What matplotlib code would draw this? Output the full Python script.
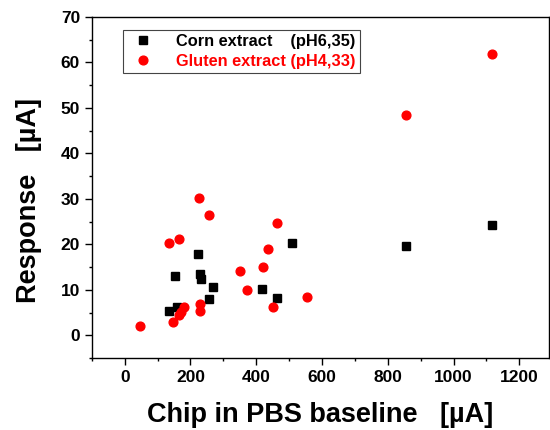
import matplotlib.pyplot as plt
from matplotlib.ticker import MultipleLocator

plt.rcParams['font.family'] = ['Liberation Sans', 'DejaVu Sans']

corn_x = [1117, 855, 510, 224, 154, 228, 232, 268, 417, 462, 256, 135, 160]
corn_y = [24.3, 19.7, 20.2, 17.8, 13.1, 13.5, 12.3, 10.7, 10.3, 8.2, 7.9, 5.4, 6.2]

gluten_x = [1117, 855, 225, 256, 462, 135, 164, 435, 351, 420, 373, 554, 450,
            230, 229, 179, 170, 165, 146, 45]
gluten_y = [61.9, 48.4, 30.1, 26.5, 24.6, 20.4, 21.1, 18.9, 14.2, 15.0, 10.0, 8.4, 6.3,
            6.8, 5.4, 6.2, 5.1, 4.5, 3.0, 2.1]

fig = plt.figure(figsize=(5.5, 4.3), dpi=100)
ax = fig.add_axes([0.167, 0.167, 0.831, 0.794])

ax.plot(corn_x, corn_y, 's', color='black', ms=5.7, label='Corn extract    (pH6,35)')
ax.plot(gluten_x, gluten_y, 'o', color='red', ms=6.3, label='Gluten extract (pH4,33)')

ax.set_xlim(-100, 1290)
ax.set_ylim(-5, 70)
ax.xaxis.set_major_locator(MultipleLocator(200))
ax.xaxis.set_minor_locator(MultipleLocator(100))
ax.yaxis.set_major_locator(MultipleLocator(10))
ax.yaxis.set_minor_locator(MultipleLocator(5))
ax.tick_params(which='major', direction='out', length=5, width=1, labelsize=12.5)
ax.tick_params(which='minor', direction='out', length=2.5, width=1)
for lab in ax.get_xticklabels() + ax.get_yticklabels():
    lab.set_fontweight('bold')
for s in ax.spines.values():
    s.set_linewidth(1.0)

ax.set_xlabel('Chip in PBS baseline   [µA]', fontsize=19.5, fontweight='bold', labelpad=12)
ax.set_ylabel('Response   [µA]', fontsize=19.5, fontweight='bold')
ax.yaxis.set_label_coords(-0.108, 0.463)

leg = ax.legend(loc='upper left', bbox_to_anchor=(0.05, 0.985), fancybox=False,
                edgecolor='#444444', framealpha=1, handletextpad=1.0,
                borderpad=0.25, labelspacing=0.3, prop={'weight': 'bold', 'size': 11.8})
leg.get_frame().set_linewidth(0.8)
for t, c in zip(leg.get_texts(), ['black', 'red']):
    t.set_color(c)

fig.savefig('out.png', dpi=100)
